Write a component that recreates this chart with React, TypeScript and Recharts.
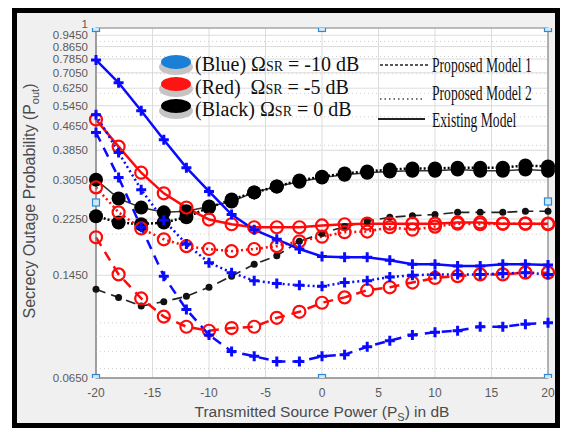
import React from 'react';
import {
  ComposedChart,
  Line,
  Scatter,
  XAxis,
  YAxis,
  CartesianGrid,
  ReferenceLine,
  ReferenceArea,
} from 'recharts';

// x axis: transmitted source power in dB
const xValues = [-20, -18, -16, -14, -12, -10, -8, -6, -4, -2, 0, 2, 4, 6, 8, 10, 12, 14, 16, 18, 20];

// Blue: Omega_SR = -10 dB
const blueExisting = [0.779, 0.652, 0.524, 0.418, 0.336, 0.279, 0.233, 0.207, 0.192, 0.178, 0.168, 0.167, 0.167, 0.163, 0.158, 0.158, 0.156, 0.156, 0.158, 0.158, 0.157];
const blueModel2 = [0.508, 0.378, 0.283, 0.223, 0.185, 0.160, 0.148, 0.139, 0.136, 0.134, 0.133, 0.137, 0.139, 0.143, 0.145, 0.146, 0.146, 0.146, 0.147, 0.148, 0.146];
const blueModel1 = [0.442, 0.311, 0.211, 0.144, 0.111, 0.091, 0.080, 0.077, 0.074, 0.074, 0.077, 0.078, 0.083, 0.087, 0.091, 0.093, 0.094, 0.097, 0.097, 0.099, 0.100];

// Red: Omega_SR = -5 dB
const redExisting = [0.489, 0.396, 0.323, 0.275, 0.246, 0.224, 0.216, 0.211, 0.211, 0.211, 0.214, 0.216, 0.217, 0.217, 0.217, 0.217, 0.219, 0.219, 0.217, 0.217, 0.217];
const redModel2 = [0.288, 0.237, 0.209, 0.192, 0.182, 0.178, 0.175, 0.178, 0.182, 0.189, 0.196, 0.203, 0.204, 0.211, 0.207, 0.212, 0.217, 0.216, 0.217, 0.217, 0.216];
const redModel1 = [0.195, 0.146, 0.121, 0.105, 0.097, 0.094, 0.096, 0.097, 0.104, 0.109, 0.117, 0.122, 0.129, 0.132, 0.137, 0.142, 0.144, 0.146, 0.146, 0.148, 0.148];

// Black: Omega_SR = 0 dB
const blackExisting = [0.306, 0.264, 0.246, 0.237, 0.239, 0.248, 0.258, 0.277, 0.290, 0.301, 0.311, 0.318, 0.323, 0.326, 0.328, 0.328, 0.331, 0.328, 0.328, 0.331, 0.328];
const blackModel2 = [0.230, 0.219, 0.216, 0.219, 0.228, 0.246, 0.262, 0.277, 0.290, 0.304, 0.313, 0.321, 0.326, 0.331, 0.334, 0.334, 0.336, 0.336, 0.336, 0.342, 0.339];
const blackModel1 = [0.130, 0.122, 0.114, 0.118, 0.123, 0.132, 0.144, 0.158, 0.169, 0.189, 0.201, 0.212, 0.221, 0.228, 0.231, 0.233, 0.237, 0.237, 0.237, 0.239, 0.239];

const yTicks = [0.065, 0.145, 0.225, 0.305, 0.385, 0.465, 0.545, 0.625, 0.705, 0.785, 0.865, 0.945, 1];
const xTicks = [-20, -15, -10, -5, 0, 5, 10, 15, 20];
const minorGrid = [0.07, 0.08, 0.09, 0.1, 0.2, 0.3, 0.4, 0.5, 0.6, 0.7, 0.8, 0.9];

// figure edit handles (light blue squares)
const handles = [
  { x: -20, y: 1 }, { x: 0, y: 1 }, { x: 20, y: 1 },
  { x: -20, y: 0.256 }, { x: 20, y: 0.258 },
  { x: -20, y: 0.065 }, { x: 0, y: 0.065 }, { x: 20, y: 0.065 },
];

const data = xValues.map((x, i) => ({
  x,
  blueExisting: blueExisting[i],
  blueModel2: blueModel2[i],
  blueModel1: blueModel1[i],
  redExisting: redExisting[i],
  redModel2: redModel2[i],
  redModel1: redModel1[i],
  blackExisting: blackExisting[i],
  blackModel2: blackModel2[i],
  blackModel1: blackModel1[i],
}));

const BLUE = '#0a0aff';
const RED = '#ff0a0a';
const SANS = 'Liberation Sans, Arial, sans-serif';
const SERIF = 'Liberation Serif, Times New Roman, serif';

const PlusDot = (props: any) => {
  const { cx, cy } = props;
  if (cx == null || cy == null) return null;
  return (
    <path
      d={`M${cx - 5},${cy}H${cx + 5}M${cx},${cy - 5}V${cy + 5}`}
      stroke={BLUE}
      strokeWidth={3}
      fill="none"
    />
  );
};

const RingDot = (props: any) => {
  const { cx, cy } = props;
  if (cx == null || cy == null) return null;
  return <circle cx={cx} cy={cy} r={6} stroke={RED} strokeWidth={2.2} fill="none" />;
};

const BigBlackDot = (props: any) => {
  const { cx, cy } = props;
  if (cx == null || cy == null) return null;
  return <circle cx={cx} cy={cy} r={7} fill="#000" />;
};

const SmallBlackDot = (props: any) => {
  const { cx, cy } = props;
  if (cx == null || cy == null) return null;
  return <circle cx={cx} cy={cy} r={3.5} fill="#111" />;
};

const HandleShape = (props: any) => {
  const { cx, cy } = props;
  if (cx == null || cy == null) return null;
  return <rect x={cx - 3.5} y={cy - 3.5} width={7} height={7} fill="#cfe8fa" stroke="#2a8ad8" strokeWidth={1.2} />;
};

const tickStyle = { fontSize: 12, fill: '#5a5a5a', fontFamily: SANS };

// upper log ticks sit close together, so they use a slightly smaller size
const YTick = (props: any) => {
  const { x, y, payload } = props;
  const v = payload.value as number;
  const label = v === 1 ? '1' : v.toFixed(4);
  return (
    <text x={x} y={v === 1 ? y - 4 : y} dy="0.355em" textAnchor="end" {...tickStyle} fontSize={11.5}>
      {label}
    </text>
  );
};

const LegendOval = ({ color, top }: { color: string; top: number }) => (
  <div style={{ position: 'absolute', left: 159, top, width: 34, height: 20 }}>
    <div style={{ position: 'absolute', left: 0, top: 4, width: 34, height: 16, borderRadius: '50%', background: '#c4c4c4' }} />
    <div style={{ position: 'absolute', left: 2, top: 0, width: 30, height: 14, borderRadius: '50%', background: color }} />
  </div>
);

const serif: React.CSSProperties = {
  position: 'absolute',
  fontFamily: SERIF,
  fontSize: 20,
  color: '#111',
  whiteSpace: 'nowrap',
  lineHeight: '22px',
};

const rightText: React.CSSProperties = {
  ...serif,
  left: 432,
  fontSize: 20,
  transform: 'scaleX(0.68)',
  transformOrigin: 'left center',
};

const Omega = ({ rest }: { rest: string }) => (
  <>
    Ω<span style={{ fontSize: 14 }}>SR</span>
    {rest}
  </>
);

export default function App() {
  return (
    <div style={{ position: 'absolute', left: 0, top: 0, width: 566, height: 432, background: '#fff', overflow: 'hidden' }}>
      <div
        style={{
          position: 'absolute', left: 12, top: 8, width: 548, height: 420,
          border: '5px solid #000', boxSizing: 'border-box', background: '#f0f0f0',
        }}
      />
      <div style={{ position: 'absolute', left: 0, top: 0 }}>
        <ComposedChart width={566} height={432} data={data} margin={{ top: 28, right: 18, bottom: 24, left: 0 }}>
          <CartesianGrid stroke="#dcdcdc" fill="#fff" horizontalValues={yTicks} verticalValues={xTicks} />
          {minorGrid.map((v) => (
            <ReferenceLine key={v} y={v} stroke="#cfcfcf" strokeDasharray="1 3" />
          ))}
          <ReferenceArea x1={-20} x2={20} y1={0.065} y2={1} fill="none" stroke="#8a8a8a" strokeWidth={1.2} />
          <XAxis
            dataKey="x"
            type="number"
            domain={[-20, 20]}
            ticks={xTicks}
            height={30}
            tick={tickStyle}
            tickLine={false}
            tickSize={4}
            tickMargin={6}
            axisLine={{ stroke: '#8a8a8a' }}
          />
          <YAxis
            type="number"
            scale="log"
            domain={[0.065, 1]}
            allowDataOverflow
            ticks={yTicks}
            interval={0}
            width={96}
            tick={<YTick />}
            tickLine={false}
            tickSize={4}
            tickMargin={4}
            axisLine={{ stroke: '#8a8a8a' }}
          />

          <Line dataKey="blackExisting" stroke="#333" strokeWidth={1.5} dot={<BigBlackDot />} isAnimationActive={false} />
          <Line dataKey="blackModel2" stroke="#000" strokeWidth={2.5} strokeDasharray="2 2" dot={<BigBlackDot />} isAnimationActive={false} />
          <Line dataKey="blackModel1" stroke="#222" strokeWidth={1.6} strokeDasharray="10 6" dot={<SmallBlackDot />} isAnimationActive={false} />

          <Line dataKey="redExisting" stroke={RED} strokeWidth={2.5} dot={<RingDot />} isAnimationActive={false} />
          <Line dataKey="redModel2" stroke={RED} strokeWidth={2.5} strokeDasharray="2 3" dot={<RingDot />} isAnimationActive={false} />
          <Line dataKey="redModel1" stroke={RED} strokeWidth={2.5} strokeDasharray="10 7" dot={<RingDot />} isAnimationActive={false} />

          <Line dataKey="blueExisting" stroke={BLUE} strokeWidth={2.5} dot={<PlusDot />} isAnimationActive={false} />
          <Line dataKey="blueModel2" stroke={BLUE} strokeWidth={2.5} strokeDasharray="2 3" dot={<PlusDot />} isAnimationActive={false} />
          <Line dataKey="blueModel1" stroke={BLUE} strokeWidth={2.5} strokeDasharray="10 7" dot={<PlusDot />} isAnimationActive={false} />

          <Scatter data={handles} dataKey="y" shape={<HandleShape />} isAnimationActive={false} />
        </ComposedChart>
      </div>

      {/* axis titles */}
      <div
        style={{
          position: 'absolute', left: 31, top: 201, transform: 'translate(-50%, -50%) rotate(-90deg)',
          fontFamily: SANS, fontSize: 16, color: '#4a4a4a', whiteSpace: 'nowrap',
        }}
      >
        Secrecy Outage Probability (P<sub style={{ fontSize: 11 }}>out</sub>)
      </div>
      <div
        style={{
          position: 'absolute', left: 322, top: 413, transform: 'translate(-50%, -50%)',
          fontFamily: SANS, fontSize: 15.5, color: '#4a4a4a', whiteSpace: 'nowrap',
        }}
      >
        Transmitted Source Power (P<sub style={{ fontSize: 11 }}>S</sub>) in dB
      </div>

      {/* legend */}
      <LegendOval color="#1a7fd6" top={55} />
      <LegendOval color="#ff1414" top={77} />
      <LegendOval color="#000" top={99} />
      <div style={{ ...serif, left: 195, top: 53 }}>(Blue) <Omega rest=" = -10  dB" /></div>
      <div style={{ ...serif, left: 195, top: 76 }}>(Red)&nbsp; <Omega rest=" = -5 dB" /></div>
      <div style={{ ...serif, left: 195, top: 98 }}>(Black) <Omega rest=" = 0 dB" /></div>

      <svg style={{ position: 'absolute', left: 0, top: 0 }} width={566} height={432}>
        <line x1={380} x2={430} y1={65} y2={65} stroke="#222" strokeWidth={1.5} strokeDasharray="3 2" />
        <line x1={380} x2={425} y1={99} y2={99} stroke="#444" strokeWidth={1.5} strokeDasharray="1.5 3" />
        <line x1={378} x2={425} y1={119} y2={119} stroke="#222" strokeWidth={1.8} />
      </svg>
      <div style={{ ...rightText, top: 54 }}>Proposed Model 1</div>
      <div style={{ ...rightText, top: 82 }}>Proposed Model 2</div>
      <div style={{ ...rightText, top: 109 }}>Existing Model</div>
    </div>
  );
}
